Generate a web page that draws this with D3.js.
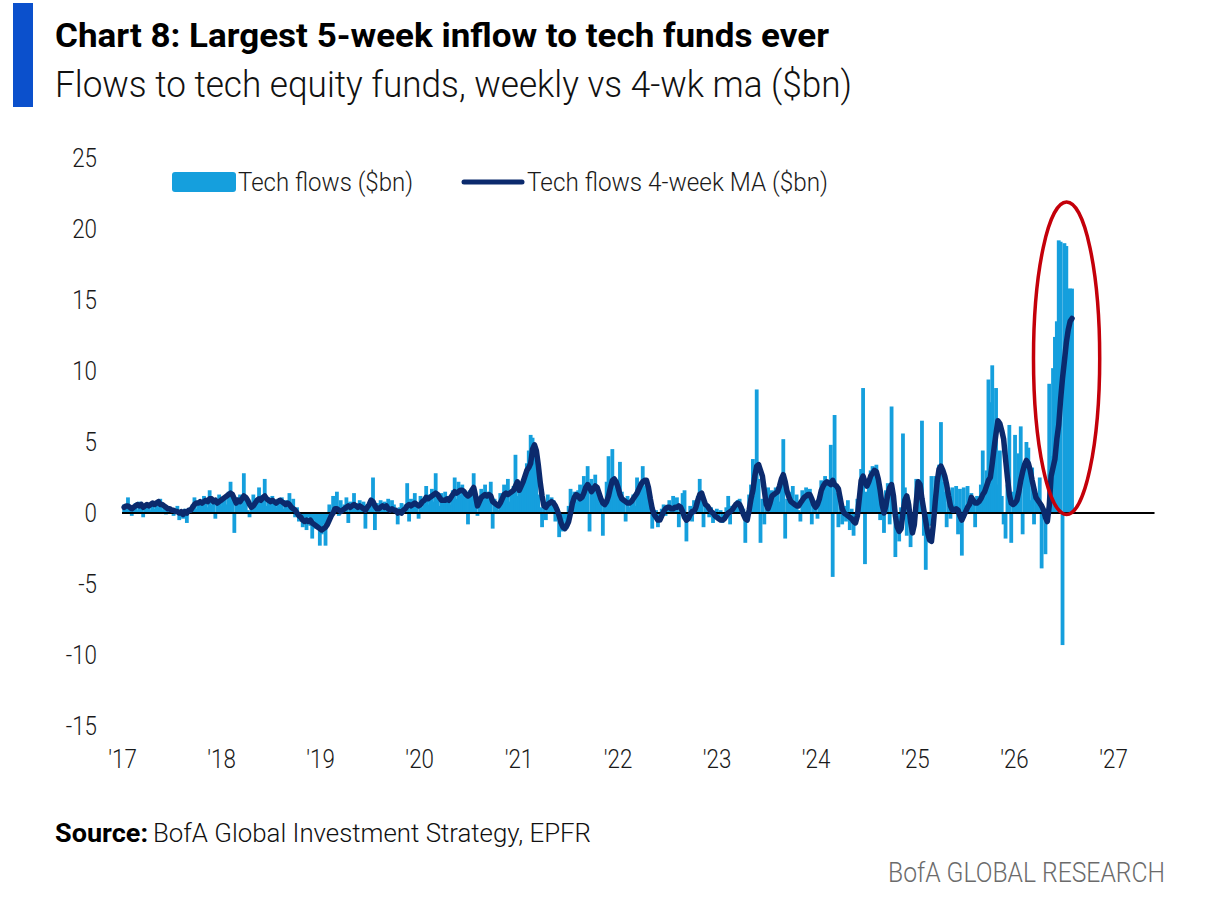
<!DOCTYPE html>
<html><head><meta charset="utf-8">
<script src="https://cdn.jsdelivr.net/npm/d3@7"></script>
<style>
html,body{margin:0;padding:0;background:#fff;}
svg{display:block;font-family:Roboto,"Open Sans","Liberation Sans",sans-serif;}
</style></head><body>
<svg id="chart" width="1206" height="911"></svg>
<script>
// ---- Weekly tech fund flows ($bn), one array per calendar year ----
const flows2017 = [0.6,0.3,1.1,0.4,-0.2,0.5,0.7,0.2,0.8,0.3,-0.3,0.6,0.4,0.7,0.2,0.5,0.3,0.8,0.4,1.0,0.2,0.5,-0.1,0.3,0.4,0.1,-0.2,0.3,0.5,-0.5,0.2,-0.4,0.3,-0.7,0.1,0.4,0.6,1.1,0.3,0.7,0.9,0.5,1.2,0.8,0.4,1.6,0.6,1.0,-0.4,0.8,1.3,0.5];
const flows2018 = [0.9,1.2,0.6,1.5,2.2,1.0,-1.4,1.1,0.7,1.3,0.5,2.8,0.9,0.2,-0.3,0.6,1.3,0.4,1.0,1.8,0.6,0.9,2.4,0.5,1.1,0.7,1.2,0.8,0.4,1.0,0.6,1.1,0.3,0.9,0.5,1.4,0.2,1.0,-0.3,0.4,-0.6,-0.2,-1.0,-0.4,-1.2,-0.3,-0.9,-1.8,-0.5,-1.1,-0.7,-2.3];
const flows2019 = [-1.5,-0.8,-2.3,-0.4,0.6,-0.3,1.2,0.4,1.5,-0.2,0.9,0.3,0.6,1.1,-0.7,0.8,0.5,1.4,0.2,0.7,0.9,0.4,0.8,-1.1,0.6,0.3,1.0,2.5,-1.2,0.7,0.4,0.9,0.2,0.8,0.5,1.0,0.3,0.9,0.6,0.2,-0.8,0.4,0.7,0.1,0.6,2.1,-0.6,1.0,0.8,1.4,0.5,-0.4];
const flows2020 = [1.2,0.4,0.9,1.9,0.6,1.3,1.7,0.8,2.8,1.1,0.5,1.4,0.7,1.5,0.9,1.2,0.6,1.6,2.5,1.0,2.2,1.3,2.0,1.1,1.5,-0.8,1.6,1.2,2.8,0.9,-0.2,0.8,1.7,1.2,2.0,0.9,1.5,2.2,-1.1,1.0,0.6,0.2,1.4,0.9,2.0,1.1,2.4,0.8,1.6,1.9,4.1,1.2];
const flows2021 = [2.0,1.5,2.4,2.8,3.5,4.4,5.5,5.3,4.8,4.3,1.3,0.4,-1.0,0.6,-0.5,1.3,0.8,1.1,0.9,-0.6,0.2,-1.7,-0.9,-1.3,-0.4,-1.1,0.5,1.7,1.2,1.5,0.8,1.6,2.0,1.4,2.6,1.9,3.3,-1.3,2.4,1.8,2.7,1.2,0.6,1.0,-1.6,0.8,2.2,4.0,1.5,4.5,1.8,2.1];
const flows2022 = [2.0,3.6,1.5,0.9,-0.6,1.2,0.4,0.8,1.3,0.5,2.5,1.4,2.2,3.3,1.9,2.0,1.1,0.3,-1.1,-0.4,0.2,-1.0,-0.6,0.3,0.6,-0.2,0.5,0.9,0.2,1.2,0.4,1.1,-1.0,0.6,1.4,1.6,-2.0,-0.4,0.5,-0.6,0.9,0.3,1.2,2.4,1.5,-1.0,0.6,0.2,-0.3,0.4,-0.7,0.1];
const flows2023 = [0.3,-0.5,0.2,-0.7,-0.3,0.4,1.2,-0.8,0.5,0.2,0.6,0.9,1.0,0.5,0.3,-2.1,-0.3,1.3,2.0,3.8,1.2,8.7,2.4,-2.1,1.0,-0.8,0.4,1.8,1.1,1.6,0.9,1.8,1.4,0.8,2.0,5.2,-1.8,1.0,1.5,0.7,1.9,0.4,1.3,0.2,-0.6,1.6,0.8,1.8,1.2,1.7,-0.8,0.9];
const flows2024 = [0.6,-0.4,1.2,2.3,1.5,2.6,2.2,1.8,4.8,-4.5,6.9,1.4,-1.0,1.2,-0.8,0.5,-0.6,0.9,-1.2,0.3,-1.6,-0.5,1.0,0.4,3.1,8.8,-3.6,1.5,2.2,3.0,3.3,2.6,3.4,2.4,-0.5,0.8,-1.4,1.6,2.1,-0.8,7.5,1.2,-3.1,-1.0,-2.0,0.4,5.6,1.8,-1.6,0.9,-2.4,-1.2];
const flows2025 = [-1.0,2.4,1.8,2.0,6.5,-1.6,-4.0,-1.8,-0.9,2.6,1.2,2.6,1.0,3.4,6.4,2.2,1.5,-1.0,1.6,-0.4,1.8,0.6,1.9,-1.5,1.7,-3.0,1.8,0.5,1.9,0.8,1.4,0.6,-1.0,1.2,0.9,2.0,4.4,1.5,3.0,9.4,7.8,10.4,5.0,8.8,2.0,4.4,1.2,-0.8,-1.8,2.0,6.2,-2.1];
const flows2026 = [1.5,5.5,0.8,4.2,6.1,-1.5,2.8,5.0,4.6,0.9,3.2,-0.8,1.4,0.6,2.5,-3.9,0.3,-2.9,-0.5,9.1,4.0,10.2,12.4,13.5,19.2,19.1,-9.3,19.0,18.8,15.8,15.8,15.8];

// ---- 4-week moving average ($bn) ----
const ma2017 = [0.4,0.5,0.5,0.4,0.3,0.4,0.5,0.6,0.5,0.6,0.4,0.5,0.6,0.5,0.6,0.7,0.6,0.7,0.8,0.6,0.6,0.5,0.4,0.3,0.3,0.2,0.2,0.1,0.1,0.0,0.1,-0.1,0.1,0.0,0.2,0.2,0.4,0.6,0.7,0.7,0.8,0.7,0.8,0.9,0.8,1.0,1.0,0.8,0.9,0.7,0.8,0.9];
const ma2018 = [1.0,1.1,1.2,1.3,1.4,1.3,1.0,0.7,0.9,0.8,1.0,1.2,1.1,0.9,0.6,0.4,0.5,0.7,0.9,1.0,0.9,1.1,1.2,1.0,0.9,0.8,0.9,0.8,0.7,0.8,0.9,0.8,0.7,0.6,0.7,0.6,0.4,0.3,0.2,0.0,-0.2,-0.3,-0.5,-0.6,-0.5,-0.6,-0.5,-0.7,-0.8,-0.9,-1.0,-1.1];
const ma2019 = [-1.2,-1.1,-1.0,-0.8,-0.5,-0.2,0.0,0.3,0.3,0.2,0.1,0.2,0.3,0.4,0.5,0.4,0.5,0.6,0.5,0.4,0.5,0.4,0.3,0.2,0.4,0.6,0.9,0.8,0.5,0.3,0.3,0.4,0.5,0.4,0.5,0.3,0.2,0.3,0.2,0.2,0.0,0.1,0.0,0.2,0.3,0.5,0.6,0.5,0.6,0.7,0.6,0.5];
const ma2020 = [0.6,0.8,0.9,1.1,1.0,1.1,1.2,1.3,1.4,1.3,1.1,0.9,0.9,0.9,1.0,0.9,1.1,1.3,1.5,1.4,1.5,1.6,1.6,1.5,1.3,1.2,1.3,1.6,1.8,1.2,0.5,0.8,1.1,1.2,1.3,1.2,1.3,1.2,0.8,0.7,0.6,0.5,0.7,1.0,1.3,1.4,1.3,1.4,1.5,1.6,1.9,2.2];
const ma2021 = [1.6,1.9,2.2,2.6,3.0,3.2,3.5,4.5,4.8,4.4,3.4,2.2,1.2,0.5,0.4,0.6,0.7,0.8,0.7,0.5,0.2,-0.2,-0.7,-1.0,-1.1,-0.9,-0.6,0.0,0.7,1.1,1.3,1.2,1.0,1.1,1.4,1.8,2.0,1.8,1.5,1.7,1.9,1.8,1.4,1.0,0.7,0.6,0.8,1.2,1.8,2.3,2.4,2.2];
const ma2022 = [1.8,1.3,1.0,0.9,0.8,0.7,0.7,0.8,1.0,1.2,1.4,1.7,2.0,2.2,2.3,2.3,1.8,1.0,0.3,-0.1,-0.3,-0.5,-0.5,-0.2,0.1,0.3,0.4,0.4,0.3,0.3,0.4,0.4,0.5,0.4,0.1,-0.3,-0.5,-0.4,-0.1,0.1,0.1,0.4,0.9,1.3,1.4,1.0,0.6,0.5,0.3,0.1,0.0,-0.2];
const ma2023 = [-0.3,-0.4,-0.5,-0.5,-0.4,-0.2,0.0,0.1,0.2,0.4,0.6,0.7,0.6,0.3,-0.1,-0.4,-0.5,0.2,1.0,1.6,2.6,3.3,3.4,3.0,2.6,1.6,0.6,0.3,0.7,1.2,1.3,1.4,1.5,1.9,2.4,2.7,2.2,1.5,1.1,0.8,0.7,0.6,0.5,0.5,0.7,0.9,1.1,1.2,1.3,1.3,1.0,0.6];
const ma2024 = [0.4,0.6,1.0,1.6,1.9,2.1,2.2,2.1,2.0,2.3,2.0,1.9,1.7,1.0,0.3,0.0,-0.1,-0.2,-0.3,-0.4,-0.6,-0.7,-0.2,1.0,2.3,2.6,2.2,1.9,2.2,2.6,2.8,3.0,2.9,2.4,1.6,0.6,0.0,0.5,1.3,1.8,2.0,1.2,-0.2,-1.0,-1.3,-1.1,0.0,0.9,1.2,0.6,-0.6,-1.4];
const ma2025 = [-0.8,0.8,2.2,2.0,1.0,0.2,-0.6,-1.4,-1.9,-2.0,-0.8,0.8,2.2,3.1,3.3,3.0,2.6,2.0,1.2,0.5,0.2,0.2,0.3,0.2,-0.2,-0.5,-0.2,0.1,0.4,0.6,1.1,0.9,0.7,0.7,0.8,1.0,1.3,1.5,1.9,2.3,2.5,3.5,4.6,5.6,6.5,6.3,5.8,5.2,3.8,2.5,1.3,0.7];
const ma2026 = [0.6,0.7,0.9,1.5,2.3,2.9,3.4,3.7,3.5,3.0,2.3,1.7,1.1,0.9,0.7,0.5,0.2,-0.3,-0.6,0.5,2.6,3.2,3.8,5.2,6.2,8.0,9.5,10.7,12.0,12.9,13.5,13.7];

// ---- axes / annotation values ----
const firstWeek = new Date(2017, 0, 9);
const yTickValues = [25, 20, 15, 10, 5, 0, -5, -10, -15];
const xTickYears = [2017, 2018, 2019, 2020, 2021, 2022, 2023, 2024, 2025, 2026, 2027];
const xTickLabels = ["'17", "'18", "'19", "'20", "'21", "'22", "'23", "'24", "'25", "'26", "'27"];
const zeroLineEnd = new Date(2027, 5, 3);
const highlightDates = [new Date(2026, 2, 14), new Date(2026, 10, 13)];
const highlightValues = [-0.1, 21.9];

const legendLabels = ["Tech flows ($bn)", "Tech flows 4-week MA ($bn)"];
const titleText = "Chart 8: Largest 5-week inflow to tech funds ever";
const subtitleText = "Flows to tech equity funds, weekly vs 4-wk ma ($bn)";
const sourceBold = "Source:";
const sourceText = "BofA Global Investment Strategy, EPFR";
const footerText = "BofA GLOBAL RESEARCH";

// ---- build ----
const flows = [].concat(flows2017, flows2018, flows2019, flows2020, flows2021, flows2022, flows2023, flows2024, flows2025, flows2026);
const ma = [].concat(ma2017, ma2018, ma2019, ma2020, ma2021, ma2022, ma2023, ma2024, ma2025, ma2026);
const data = flows.map((v, i) => ({ date: d3.timeWeek.offset(firstWeek, i), flow: v, ma: ma[i] }));

const BAR = "#159fdd", NAVY = "#0b2a6d", RED = "#c4000a";
const svg = d3.select("#chart");

const x = d3.scaleTime().domain([new Date(2017, 0, 1), new Date(2027, 0, 1)]).range([122, 1113]);
const y = d3.scaleLinear().domain([-15, 25]).range([726, 158]);

// header
svg.append("rect").attr("x", 13).attr("y", 3).attr("width", 20).attr("height", 104).attr("fill", "#0b50cc");
svg.append("text").attr("x", 55).attr("y", 47).attr("font-size", 33).attr("font-weight", 700).attr("fill", "#000")
  .attr("textLength", 774).attr("lengthAdjust", "spacingAndGlyphs").text(titleText);
svg.append("text").attr("x", 55).attr("y", 97).attr("font-size", 37).attr("font-weight", 300).attr("fill", "#111")
  .attr("textLength", 797).attr("lengthAdjust", "spacingAndGlyphs").text(subtitleText);

// bars
svg.append("g").selectAll("rect").data(data).join("rect")
  .attr("x", d => x(d.date) - 1.9)
  .attr("width", 3.8)
  .attr("y", d => y(Math.max(0, d.flow)))
  .attr("height", d => Math.abs(y(d.flow) - y(0)))
  .attr("fill", BAR);

// zero line
svg.append("line").attr("x1", x(new Date(2017, 0, 1))).attr("x2", x(zeroLineEnd))
  .attr("y1", y(0)).attr("y2", y(0)).attr("stroke", "#000").attr("stroke-width", 2);

// MA line
svg.append("path").datum(data)
  .attr("d", d3.line().x(d => x(d.date)).y(d => y(d.ma)))
  .attr("fill", "none").attr("stroke", NAVY).attr("stroke-width", 5.5)
  .attr("stroke-linejoin", "round").attr("stroke-linecap", "round");

// highlight ellipse
const ex0 = x(highlightDates[0]), ex1 = x(highlightDates[1]);
const ey0 = y(highlightValues[1]), ey1 = y(highlightValues[0]);
svg.append("ellipse").attr("cx", (ex0 + ex1) / 2).attr("cy", (ey0 + ey1) / 2)
  .attr("rx", (ex1 - ex0) / 2).attr("ry", (ey1 - ey0) / 2)
  .attr("fill", "none").attr("stroke", RED).attr("stroke-width", 3.5);

// axes
function condense(sel, k) {
  sel.each(function () {
    const w = this.getComputedTextLength();
    d3.select(this).attr("textLength", w * k).attr("lengthAdjust", "spacingAndGlyphs");
  });
}
const yAxis = svg.append("g").attr("transform", "translate(97,0)")
  .call(d3.axisLeft(y).tickValues(yTickValues).tickSize(0).tickPadding(0).tickFormat(d => String(d)));
yAxis.select(".domain").remove();
yAxis.selectAll("text").attr("font-size", 26).attr("font-family", "Roboto, sans-serif").attr("font-weight", 300).attr("fill", "#1a1a1a").call(condense, 0.86);

const xAxis = svg.append("g").attr("transform", "translate(0,750)")
  .call(d3.axisBottom(x).tickValues(xTickYears.map(yr => new Date(yr, 0, 1))).tickSize(0).tickPadding(0)
    .tickFormat((d, i) => xTickLabels[i]));
xAxis.select(".domain").remove();
xAxis.selectAll("text").attr("font-size", 26).attr("font-family", "Roboto, sans-serif").attr("font-weight", 300).attr("fill", "#1a1a1a").call(condense, 0.86);

// legend
const lg = svg.append("g");
lg.append("rect").attr("x", 172).attr("y", 172).attr("width", 64).attr("height", 20).attr("rx", 3).attr("fill", BAR);
lg.append("text").attr("x", 238).attr("y", 191).attr("font-size", 25).attr("font-weight", 300).attr("fill", "#1a1a1a")
  .attr("textLength", 175).attr("lengthAdjust", "spacingAndGlyphs").text(legendLabels[0]);
lg.append("line").attr("x1", 464).attr("x2", 522).attr("y1", 182).attr("y2", 182)
  .attr("stroke", NAVY).attr("stroke-width", 5).attr("stroke-linecap", "round");
lg.append("text").attr("x", 527).attr("y", 191).attr("font-size", 25).attr("font-weight", 300).attr("fill", "#1a1a1a")
  .attr("textLength", 301).attr("lengthAdjust", "spacingAndGlyphs").text(legendLabels[1]);

// source & footer
svg.append("text").attr("x", 55).attr("y", 842).attr("font-size", 25).attr("font-weight", 700).attr("fill", "#000")
  .attr("textLength", 93).attr("lengthAdjust", "spacingAndGlyphs").text(sourceBold);
svg.append("text").attr("x", 153).attr("y", 842).attr("font-size", 25).attr("font-weight", 300).attr("fill", "#111")
  .attr("textLength", 438).attr("lengthAdjust", "spacingAndGlyphs").text(sourceText);
svg.append("text").attr("x", 888).attr("y", 882).attr("font-size", 28).attr("font-weight", 300).attr("fill", "#6b6b6b")
  .attr("textLength", 277).attr("lengthAdjust", "spacingAndGlyphs").text(footerText);
</script>
</body></html>
